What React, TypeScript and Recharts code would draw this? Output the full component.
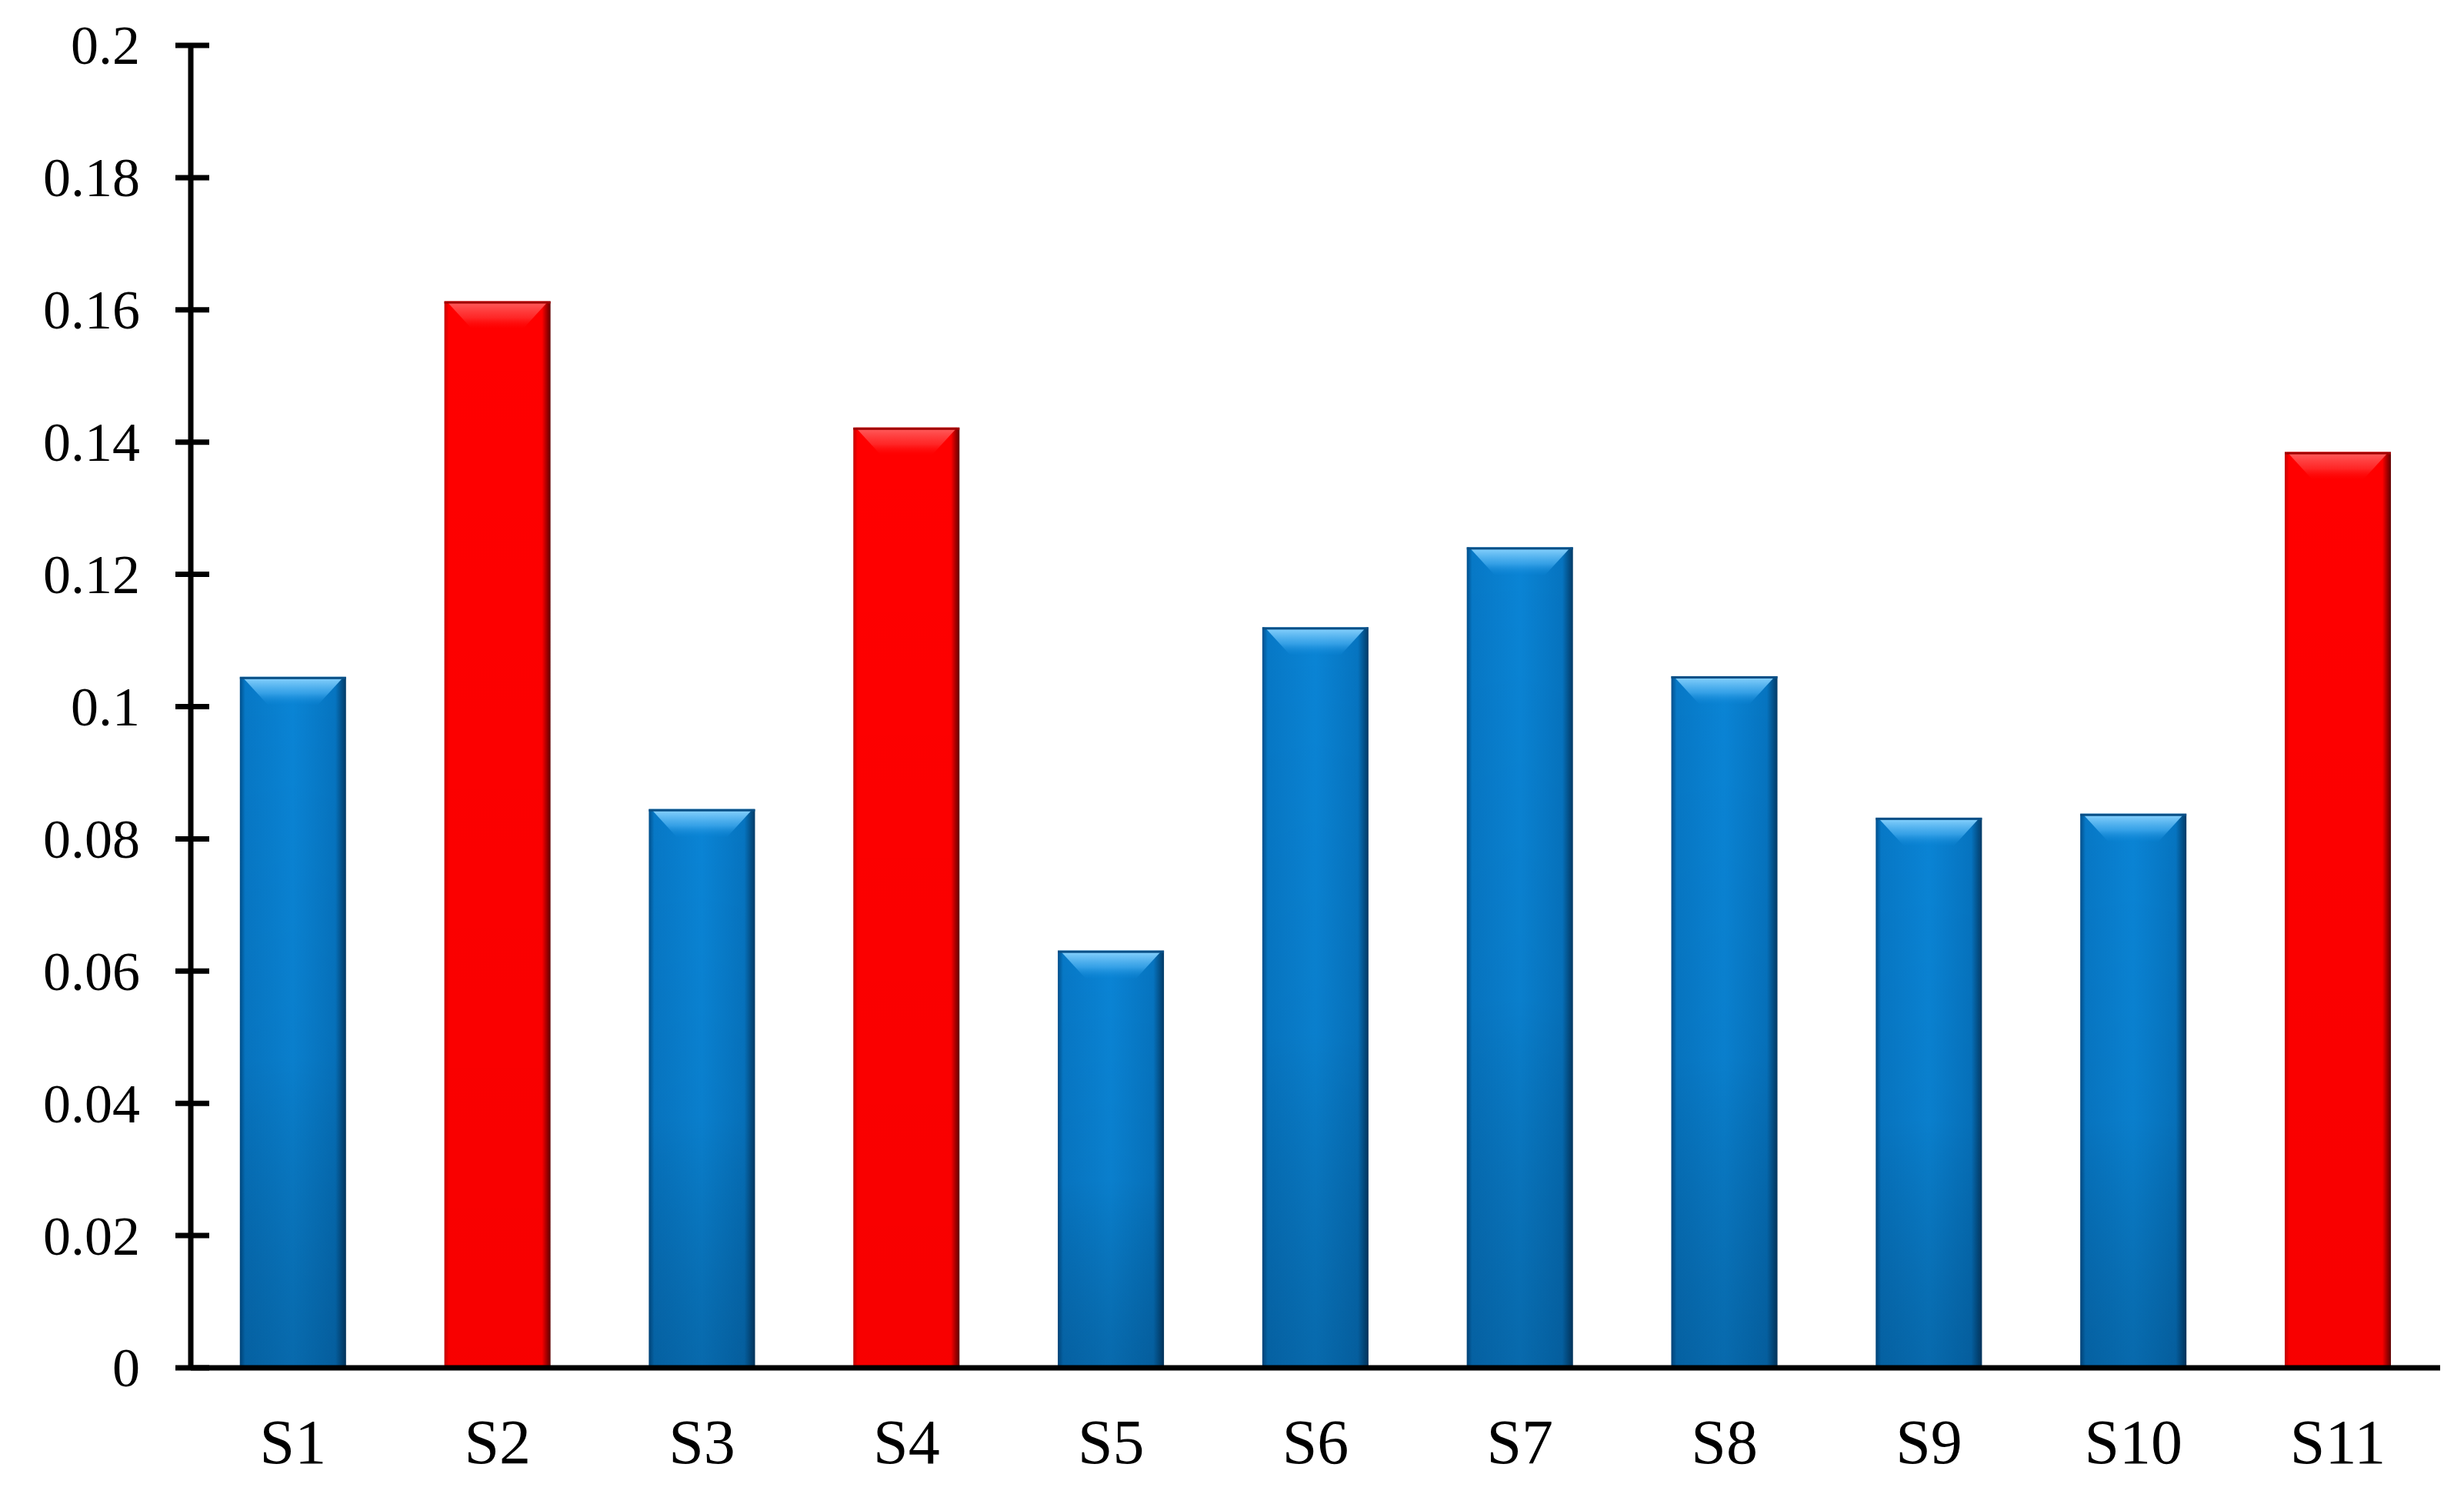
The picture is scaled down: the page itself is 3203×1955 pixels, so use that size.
import React from 'react';
import { BarChart, Bar, XAxis, YAxis, Cell } from 'recharts';

const samples = ['S1', 'S2', 'S3', 'S4', 'S5', 'S6', 'S7', 'S8', 'S9', 'S10', 'S11'];
const values = [0.1045, 0.1613, 0.0845, 0.1422, 0.0631, 0.112, 0.1241, 0.1046, 0.0832, 0.0838, 0.1385];
const redSamples = ['S2', 'S4', 'S11'];
const yTicks = [0, 0.02, 0.04, 0.06, 0.08, 0.1, 0.12, 0.14, 0.16, 0.18, 0.2];

const data = samples.map((name, i) => ({ name, value: values[i] }));

const FONT = '"Liberation Serif", "Times New Roman", serif';

function GlassBar(props: any) {
  const { x, y, width, height, fill } = props;
  if (!height || height <= 0) return null;
  const red = fill === 'red';
  const bevel = Math.min(36, height / 2, width / 2);
  const id = red ? 'red' : 'blue';
  return (
    <g>
      <rect x={x} y={y} width={width} height={height} fill={`url(#${id}Body)`} />
      <rect x={x} y={y} width={width} height={height} fill={`url(#${id}Shade)`} />
      <polygon
        points={`${x + 3},${y} ${x + width - 3},${y} ${x + width - bevel},${y + bevel} ${x + bevel},${y + bevel}`}
        fill={`url(#${id}Bevel)`}
      />
      <rect x={x} y={y} width={width} height={3} fill={red ? '#a00000' : '#0a4f86'} />
    </g>
  );
}

function YTick(props: any) {
  const { x, y, payload } = props;
  const label = String(Number(Number(payload.value).toFixed(2)));
  return (
    <g>
      <line x1={x + 46} x2={x + 90} y1={y} y2={y} stroke="#000" strokeWidth={7} />
      <text x={x} y={y} dy="0.34em" textAnchor="end" fontFamily={FONT} fontSize={72} fill="#000">
        {label}
      </text>
    </g>
  );
}

function XTick(props: any) {
  const { x, y, payload } = props;
  return (
    <text x={x} y={y + 124} textAnchor="middle" fontFamily={FONT} fontSize={82} fill="#000">
      {payload.value}
    </text>
  );
}

export default function App() {
  return (
    <div style={{ position: 'absolute', left: 0, top: 0, background: '#fff' }}>
      <BarChart
        width={3203}
        height={1955}
        data={data}
        margin={{ top: 59, right: 31, bottom: 0, left: 0 }}
        barCategoryGap="24%"
      >
        <defs>
          <linearGradient id="blueBody" x1="0" y1="0" x2="1" y2="0">
            <stop offset="0%" stopColor="#004f8c" />
            <stop offset="5%" stopColor="#0778c6" />
            <stop offset="50%" stopColor="#0a84d5" />
            <stop offset="90%" stopColor="#0674c0" />
            <stop offset="100%" stopColor="#023a66" />
          </linearGradient>
          <linearGradient id="blueShade" x1="0" y1="0" x2="0" y2="1">
            <stop offset="0%" stopColor="#000" stopOpacity={0} />
            <stop offset="55%" stopColor="#000" stopOpacity={0.04} />
            <stop offset="100%" stopColor="#001a33" stopOpacity={0.25} />
          </linearGradient>
          <linearGradient id="blueBevel" x1="0" y1="0" x2="0" y2="1">
            <stop offset="0%" stopColor="#8fd6ff" stopOpacity={1} />
            <stop offset="60%" stopColor="#3fa8ec" stopOpacity={0.8} />
            <stop offset="100%" stopColor="#0a84d5" stopOpacity={0.2} />
          </linearGradient>
          <linearGradient id="redBody" x1="0" y1="0" x2="1" y2="0">
            <stop offset="0%" stopColor="#c40000" />
            <stop offset="4%" stopColor="#ff0000" />
            <stop offset="92%" stopColor="#ff0000" />
            <stop offset="100%" stopColor="#5e0000" />
          </linearGradient>
          <linearGradient id="redShade" x1="0" y1="0" x2="0" y2="1">
            <stop offset="0%" stopColor="#000" stopOpacity={0} />
            <stop offset="100%" stopColor="#000" stopOpacity={0.03} />
          </linearGradient>
          <linearGradient id="redBevel" x1="0" y1="0" x2="0" y2="1">
            <stop offset="0%" stopColor="#ff6060" stopOpacity={1} />
            <stop offset="60%" stopColor="#ff3030" stopOpacity={0.8} />
            <stop offset="100%" stopColor="#ff0000" stopOpacity={0.2} />
          </linearGradient>
        </defs>
        <XAxis
          dataKey="name"
          height={177}
          axisLine={{ stroke: '#000', strokeWidth: 7 }}
          tickLine={false}
          tickSize={0}
          tickMargin={0}
          tick={<XTick />}
          interval={0}
        />
        <YAxis
          width={248}
          domain={[0, 0.2]}
          ticks={yTicks}
          interval={0}
          axisLine={{ stroke: '#000', strokeWidth: 7 }}
          tickLine={false}
          tickSize={0}
          tickMargin={66}
          tick={<YTick />}
        />
        <Bar dataKey="value" isAnimationActive={false} shape={<GlassBar />}>
          {data.map((d) => (
            <Cell key={d.name} fill={redSamples.includes(d.name) ? 'red' : 'blue'} />
          ))}
        </Bar>
      </BarChart>
    </div>
  );
}
